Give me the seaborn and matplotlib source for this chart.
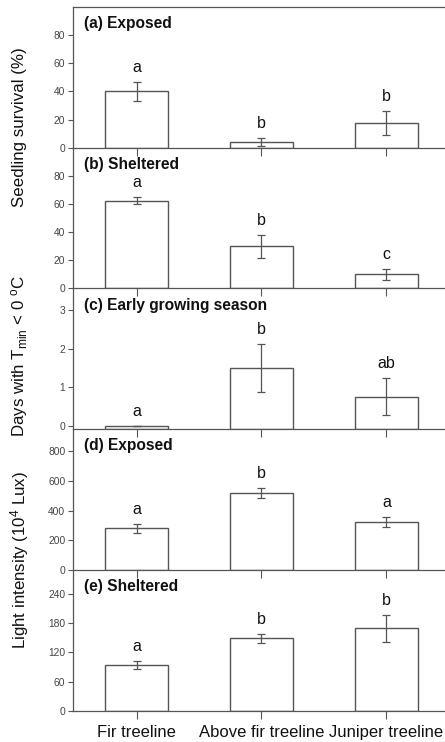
import numpy as np
import matplotlib
matplotlib.use('Agg')
import matplotlib.pyplot as plt
import seaborn as sns

# sites along the treeline gradient
sites = ['Fir treeline', 'Above fir treeline', 'Juniper treeline']

# (a) seedling survival, exposed
surv_exposed = [40, 4, 17.5]
surv_exposed_se = [7, 3, 8.5]
surv_exposed_letters = ['a', 'b', 'b']

# (b) seedling survival, sheltered
surv_sheltered = [62.5, 30, 10]
surv_sheltered_se = [2.7, 8, 4]
surv_sheltered_letters = ['a', 'b', 'c']

# (c) days with Tmin < 0 in early growing season
frost_days = [0, 1.5, 0.75]
frost_days_se = [0, 0.63, 0.48]
frost_days_letters = ['a', 'b', 'ab']

# (d) light intensity, exposed
light_exposed = [280, 520, 325]
light_exposed_se = [28, 32, 35]
light_exposed_letters = ['a', 'b', 'a']

# (e) light intensity, sheltered
light_sheltered = [94, 149, 170]
light_sheltered_se = [7.5, 10, 28]
light_sheltered_letters = ['a', 'b', 'b']

panels = [
    ('(a) Exposed', surv_exposed, surv_exposed_se, surv_exposed_letters, (0, 100), [0, 20, 40, 60, 80]),
    ('(b) Sheltered', surv_sheltered, surv_sheltered_se, surv_sheltered_letters, (0, 100), [0, 20, 40, 60, 80]),
    ('(c) Early growing season', frost_days, frost_days_se, frost_days_letters, (-0.09, 3.57), [0, 1, 2, 3]),
    ('(d) Exposed', light_exposed, light_exposed_se, light_exposed_letters, (0, 950), [0, 200, 400, 600, 800]),
    ('(e) Sheltered', light_sheltered, light_sheltered_se, light_sheltered_letters, (0, 290), [0, 60, 120, 180, 240]),
]

sns.set_style('white')
plt.rcParams['font.family'] = ['Liberation Sans', 'DejaVu Sans']
plt.rcParams['mathtext.default'] = 'regular'

LINE = '#555555'
TXT = '#111111'

W, H = 445, 742
fig = plt.figure(figsize=(W / 100, H / 100), dpi=100)

top_px, bot_px = 7, 710.7
ph = (bot_px - top_px) / len(panels)
left = 73 / W
width = 1.0 - left

for i, (title, vals, errs, letters, ylim, yticks) in enumerate(panels):
    y0 = 1 - (top_px + (i + 1) * ph) / H
    ax = fig.add_axes([left, y0, width, ph / H])
    ax.patch.set_alpha(0)
    sns.barplot(x=sites, y=vals, ax=ax, color='white', edgecolor=LINE,
                linewidth=1.0, width=0.5, errorbar=None, saturation=1)
    ax.errorbar(np.arange(len(vals)), vals, yerr=errs, fmt='none',
                ecolor=LINE, elinewidth=0.9, capsize=2.8, capthick=0.9)
    ax.set_ylim(*ylim)
    ax.set_xlim(-0.51, 2.47)
    # bars start at the bottom of the axis, as in the original
    if ylim[0] < 0:
        for p in ax.patches:
            p.set_height(p.get_y() + p.get_height() - ylim[0])
            p.set_y(ylim[0])
    ax.set_yticks(yticks)
    ax.tick_params(axis='y', direction='out', length=3.5, width=0.8, color=LINE,
                   labelsize=7.4, labelcolor='#444444', pad=2, left=True)
    ax.tick_params(axis='x', direction='out', length=6, width=0.8, color=LINE,
                   labelsize=12, labelcolor=TXT, pad=4, bottom=True)
    if i < len(panels) - 1:
        ax.set_xticklabels([])
    ax.set_xlabel('')
    ax.set_ylabel('')
    ax.spines['right'].set_visible(False)
    ax.spines['top'].set_visible(i == 0)
    for s in ['left', 'bottom', 'top']:
        ax.spines[s].set_color(LINE)
        ax.spines[s].set_linewidth(0.9)
    ax.text(0.03, 0.935, title, transform=ax.transAxes, ha='left', va='top',
            fontsize=11.2, fontweight='bold', color=TXT)
    for x, (v, e, lab) in enumerate(zip(vals, errs, letters)):
        ax.annotate(lab, (x, v + e), xytext=(0, 7.2), textcoords='offset points',
                    ha='center', va='baseline', fontsize=11.5, color=TXT)

fig.text(20 / W, 1 - 127 / H, 'Seedling survival (%)', rotation=90,
         ha='center', va='center', fontsize=12.2, color=TXT)
fig.text(20 / W, 1 - 356 / H, r'Days with T$_{min}$ < 0 $^{o}$C', rotation=90,
         ha='center', va='center', fontsize=12.2, color=TXT)
fig.text(20 / W, 1 - 560 / H, r'Light intensity (10$^{4}$ Lux)', rotation=90,
         ha='center', va='center', fontsize=12.2, color=TXT)

fig.savefig('out.png', dpi=100, facecolor='white')
